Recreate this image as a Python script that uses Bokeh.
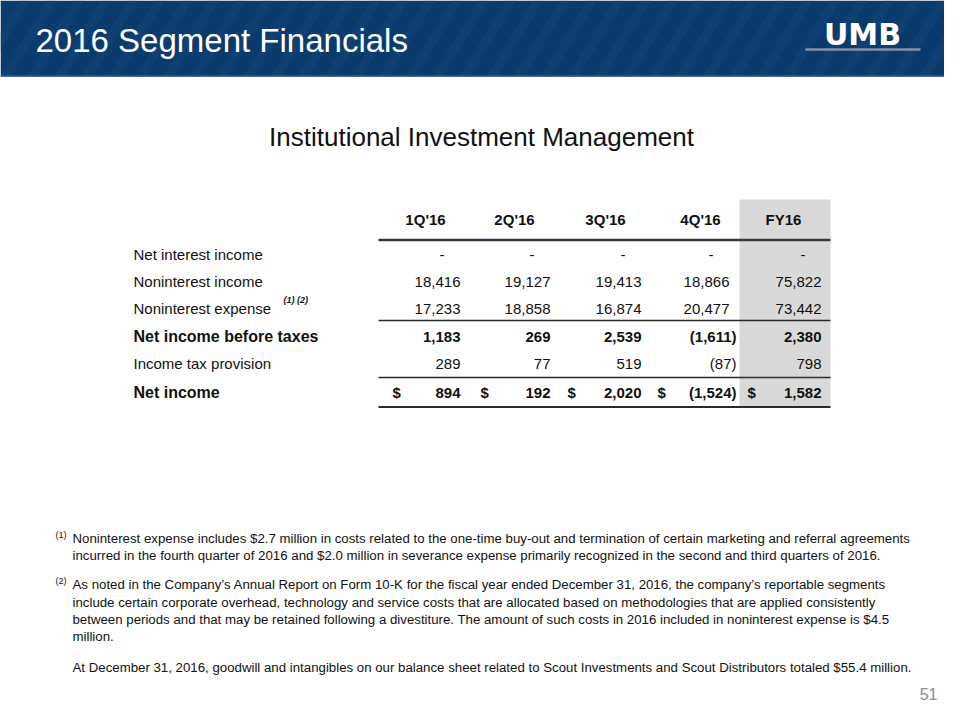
from bokeh.plotting import figure
from bokeh.models import Range1d, ColumnDataSource
from bokeh.embed import file_html
from bokeh.resources import INLINE
from bokeh.core.properties import value

# ---------------- data ----------------
slide_title = "2016 Segment Financials"
subtitle = "Institutional Investment Management"
logo_text = "UMB"
page_number = "51"

periods = ["1Q'16", "2Q'16", "3Q'16", "4Q'16", "FY16"]
row_labels = ["Net interest income", "Noninterest income", "Noninterest expense",
              "Net income before taxes", "Income tax provision", "Net income"]
bold_rows = [False, False, False, True, False, True]
dollar_rows = [False, False, False, False, False, True]

net_interest_income = [0, 0, 0, 0, 0]
noninterest_income = [18416, 19127, 19413, 18866, 75822]
noninterest_expense = [17233, 18858, 16874, 20477, 73442]
net_income_before_taxes = [1183, 269, 2539, -1611, 2380]
income_tax_provision = [289, 77, 519, -87, 798]
net_income = [894, 192, 2020, -1524, 1582]
rows = [net_interest_income, noninterest_income, noninterest_expense,
        net_income_before_taxes, income_tax_provision, net_income]

expense_note = "(1) (2)"
footnote_marks = ["(1)", "(2)"]
footnote_1 = ["Noninterest expense includes $2.7 million in costs related to the one-time buy-out and termination of certain marketing and referral agreements",
              "incurred in the fourth quarter of 2016 and $2.0 million in severance expense primarily recognized in the second and third quarters of 2016."]
footnote_2 = ["As noted in the Company\u2019s Annual Report on Form 10-K for the fiscal year ended December 31, 2016, the company\u2019s reportable segments",
              "include certain corporate overhead, technology and service costs that are allocated based on methodologies that are applied consistently",
              "between periods and that may be retained following a divestiture. The amount of such costs in 2016 included in noninterest expense is $4.5",
              "million."]
footnote_3 = ["At December 31, 2016, goodwill and intangibles on our balance sheet related to Scout Investments and Scout Distributors totaled $55.4 million."]

# ---------------- layout ----------------
FONT = value("Liberation Sans")
LOGO_FONT = value("DejaVu Sans")
TXT = "#111111"
NAVY = "#0b3a6c"
STRIPE = "#1d4f85"
GREY_COL = "#d9d9d9"

X_LABEL = 133
COL_RIGHT = [460, 550, 641, 729, 821]
HEAD_X = [425, 514, 605, 700, 783]
DOLLAR_X = [392, 480, 567, 657, 747]
ROW_Y = [254, 281, 308, 336, 363, 392]
HEAD_Y = 219
TABLE_X0, TABLE_X1 = 378, 830
FY_X0 = 739


def fmt(v):
    if v == 0:
        return "-"
    if v < 0:
        return "({:,})".format(-v)
    return "{:,}".format(v)


p = figure(width=944, height=704, output_backend="svg", toolbar_location=None,
           x_range=Range1d(0, 944), y_range=Range1d(704, 0),
           min_border=0, min_border_left=0, min_border_right=0,
           min_border_top=0, min_border_bottom=0)
p.axis.visible = False
p.grid.visible = False
p.outline_line_color = None
p.background_fill_color = "white"
p.border_fill_color = "white"

# ---------------- banner ----------------
p.quad(left=[0], right=[960], top=[0], bottom=[76], fill_color=NAVY, line_color=None)
sx, sy = [], []
for k in range(-4, 40):
    x0 = k * 27
    sx.append([x0, x0 + 11, x0 + 11 + 46, x0 + 46])
    sy.append([76, 76, 0, 0])
p.patches(sx, sy, fill_color=STRIPE, fill_alpha=0.3, line_color=None)
p.segment(x0=[0], y0=[75.5], x1=[960], y1=[75.5], line_color="#2e5d8f", line_width=1.5)

p.text(x=[35], y=[40], text=[slide_title], text_font=FONT, text_font_size="33px",
       text_color="white", text_baseline="middle", text_align="left")

# logo
p.text(x=[862], y=[34], text=[logo_text], text_font=LOGO_FONT, text_font_style="bold",
       text_font_size="30px", text_color="white", text_baseline="middle", text_align="center")
p.segment(x0=[805], y0=[49], x1=[920], y1=[49], line_color="#8393aa", line_width=2.5)

# ---------------- subtitle ----------------
p.text(x=[481], y=[136], text=[subtitle], text_font=FONT, text_font_size="26px",
       text_color=TXT, text_baseline="middle", text_align="center")

# ---------------- table ----------------
p.quad(left=[FY_X0], right=[TABLE_X1], top=[199], bottom=[406], fill_color=GREY_COL, line_color=None)

p.text(x=HEAD_X, y=[HEAD_Y] * len(periods), text=periods, text_font=FONT, text_font_style="bold",
       text_font_size="15px", text_color=TXT, text_baseline="middle", text_align="center")

p.segment(x0=[TABLE_X0], y0=[239.5], x1=[TABLE_X1], y1=[239.5], line_color="#3a3a3a", line_width=2.5)
p.segment(x0=[TABLE_X0] * 2, y0=[320, 377], x1=[TABLE_X1] * 2, y1=[320, 377],
          line_color="#2a2a2a", line_width=1.5)
p.segment(x0=[TABLE_X0], y0=[406.5], x1=[TABLE_X1], y1=[406.5], line_color="#2a2a2a", line_width=2)

for r, (label, vals) in enumerate(zip(row_labels, rows)):
    style = "bold" if bold_rows[r] else "normal"
    y = ROW_Y[r]
    p.text(x=[X_LABEL], y=[y], text=[label], text_font=FONT, text_font_style=style,
           text_font_size="16px" if bold_rows[r] else "15px", text_color=TXT,
           text_baseline="middle", text_align="left")
    xs, ts = [], []
    for c, v in enumerate(vals):
        if v == 0:
            xs.append(COL_RIGHT[c] - 16)
        elif v < 0:
            xs.append(COL_RIGHT[c] + 7)
        else:
            xs.append(COL_RIGHT[c])
        ts.append(fmt(v))
    src = ColumnDataSource(dict(x=xs, y=[y] * len(xs), t=ts))
    p.text(x="x", y="y", text="t", source=src, text_font=FONT, text_font_style=style,
           text_font_size="15px", text_color=TXT, text_baseline="middle", text_align="right")
    if dollar_rows[r]:
        p.text(x=DOLLAR_X, y=[y] * len(DOLLAR_X), text=["$"] * len(DOLLAR_X), text_font=FONT,
               text_font_style="bold", text_font_size="15px", text_color=TXT,
               text_baseline="middle", text_align="left")

p.text(x=[283], y=[299], text=[expense_note], text_font=FONT, text_font_style="bold italic",
       text_font_size="9px", text_color=TXT, text_baseline="middle", text_align="left")

# ---------------- footnotes ----------------
FN_X = 72
FN_SIZE = "13.25px"
fn_y1 = [538, 555]
fn_y2 = [584, 602, 619, 636]
fn_y3 = [667]
for lines, ys in ((footnote_1, fn_y1), (footnote_2, fn_y2), (footnote_3, fn_y3)):
    p.text(x=[FN_X] * len(lines), y=ys, text=lines, text_font=FONT, text_font_size=FN_SIZE,
           text_color=TXT, text_baseline="middle", text_align="left")
p.text(x=[55, 55], y=[534, 580], text=footnote_marks, text_font=FONT, text_font_size="9px",
       text_color=TXT, text_baseline="middle", text_align="left")

# page number
p.text(x=[937], y=[693], text=[page_number], text_font=FONT, text_font_size="16px",
       text_color="#8c8c8c", text_baseline="middle", text_align="right")

open("out.html", "w").write(file_html(p, INLINE))
